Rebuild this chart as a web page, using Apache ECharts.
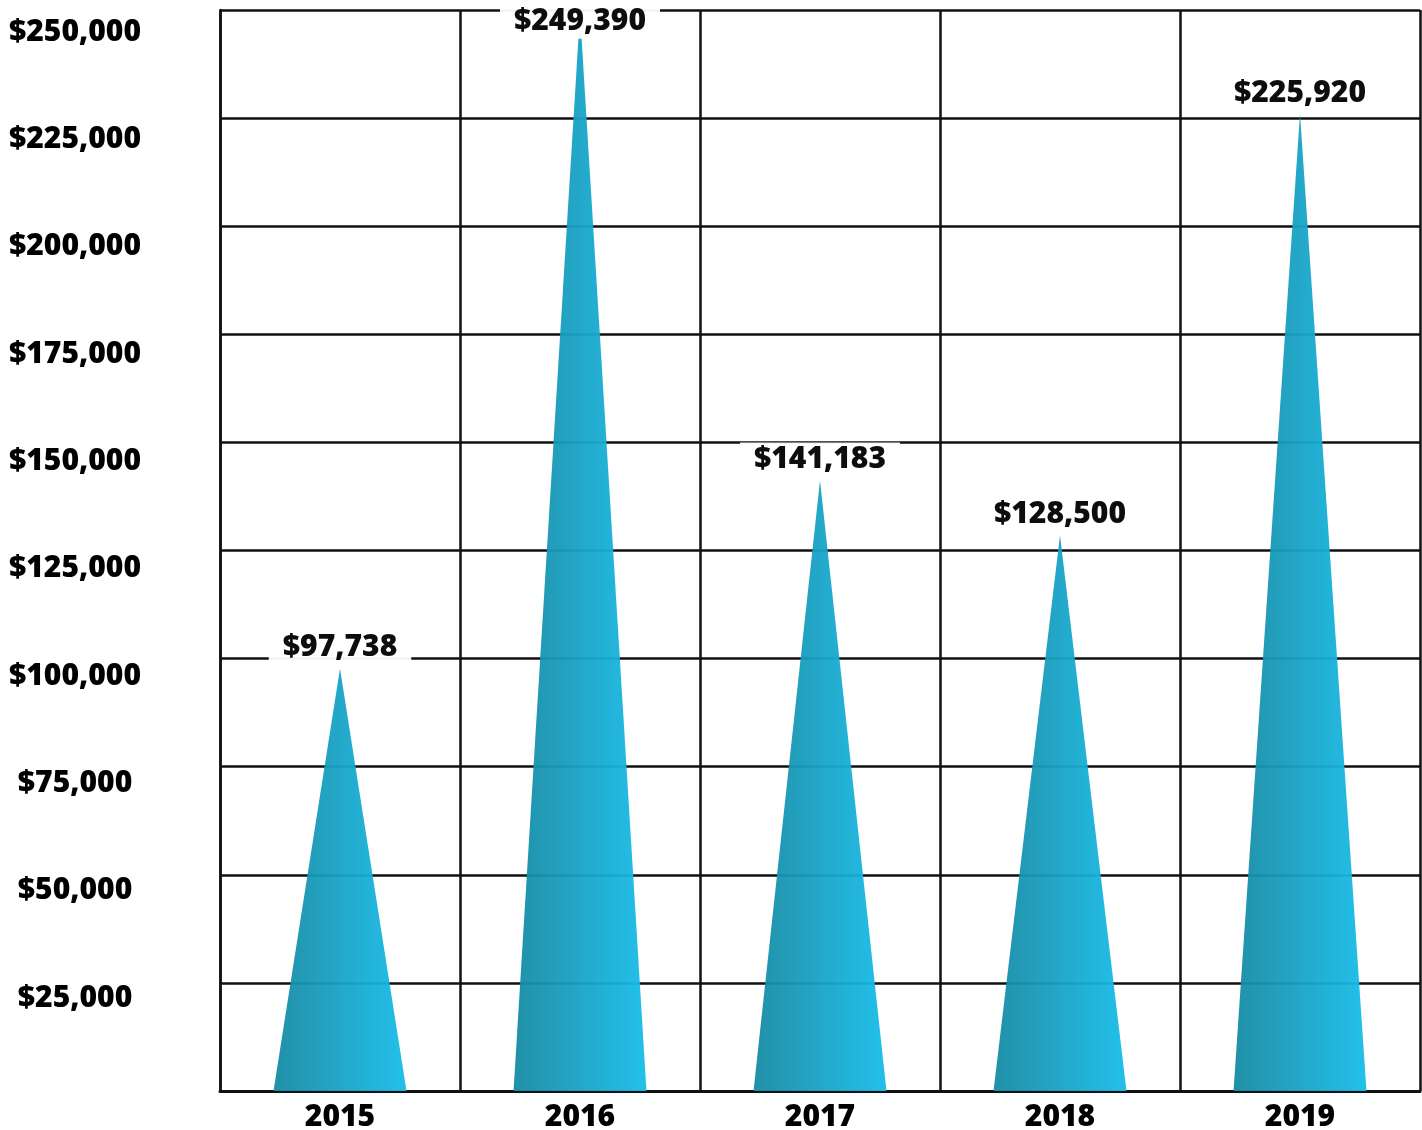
<!DOCTYPE html>
<html>
<head>
    <meta charset="UTF-8">
    <script src="https://cdn.jsdelivr.net/npm/echarts@6/dist/echarts.min.js"></script>
    <title>Yearly totals</title>
    <style>
        html, body { margin: 0; padding: 0; background: #fff; }
        #main { width: 1422px; height: 1130px; }
    </style>
</head>
<body>
<div id="main"></div>
<script>
    var years = ['2015', '2016', '2017', '2018', '2019'];
    var totals = [97738, 249390, 141183, 128500, 225920];
    var tickValues = [25000, 50000, 75000, 100000, 125000, 150000, 175000, 200000, 225000, 250000];

    var ink = '#111';
    var font = '"Open Sans", "Liberation Sans", sans-serif';

    function money(v) {
        return '$' + v.toLocaleString('en-US');
    }

    var chart = echarts.init(document.getElementById('main'));

    var items = totals.map(function (v) {
        var item = { value: v };
        // label would run off the top of the frame, pull it back in
        if (v > 240000) {
            item.label = { offset: [0, 30] };
        }
        return item;
    });

    chart.setOption({
        backgroundColor: '#fff',
        animation: false,
        grid: { left: 220, right: 2, top: 10, bottom: 39, containLabel: false, outerBoundsMode: 'none' },
        xAxis: {
            type: 'category',
            data: years,
            axisTick: { show: false },
            axisLine: { lineStyle: { color: ink, width: 3 } },
            splitLine: { show: true, lineStyle: { color: ink, width: 2.5 } },
            axisLabel: {
                color: '#000',
                fontFamily: font,
                fontWeight: 800,
                fontSize: 30,
                margin: 11
            }
        },
        yAxis: [
            {
                type: 'value',
                min: 0,
                max: 250000,
                interval: 25000,
                axisLine: { show: true, lineStyle: { color: ink, width: 2.5 } },
                axisTick: { show: false },
                axisLabel: { show: false },
                splitLine: { lineStyle: { color: ink, width: 2.5 } }
            },
            {
                // labels only, they sit a bit below each grid line in the original
                type: 'value',
                position: 'left',
                min: 3331,
                max: 255119,
                axisLine: { show: false },
                axisTick: { show: false },
                splitLine: { show: false },
                axisLabel: {
                    customValues: tickValues,
                    formatter: money,
                    align: 'center',
                    margin: 145,
                    color: '#000',
                    fontFamily: font,
                    fontWeight: 800,
                    fontSize: 30
                }
            }
        ],
        series: [
            {
                type: 'pictorialBar',
                yAxisIndex: 0,
                symbol: 'triangle',
                symbolSize: [133, '100%'],
                symbolPosition: 'start',
                data: items,
                itemStyle: {
                    opacity: 0.95,
                    color: new echarts.graphic.LinearGradient(0, 0, 1, 0, [
                        { offset: 0, color: '#168aa3' },
                        { offset: 0.5, color: '#18a3c6' },
                        { offset: 1, color: '#17bdea' }
                    ])
                },
                label: {
                    show: true,
                    position: 'top',
                    distance: 4,
                    formatter: function (p) { return money(p.value); },
                    color: '#000',
                    fontFamily: font,
                    fontWeight: 800,
                    fontSize: 30,
                    backgroundColor: '#fff',
                    padding: [2, 14]
                },
                z: 3
            }
        ]
    });
</script>
</body>
</html>
